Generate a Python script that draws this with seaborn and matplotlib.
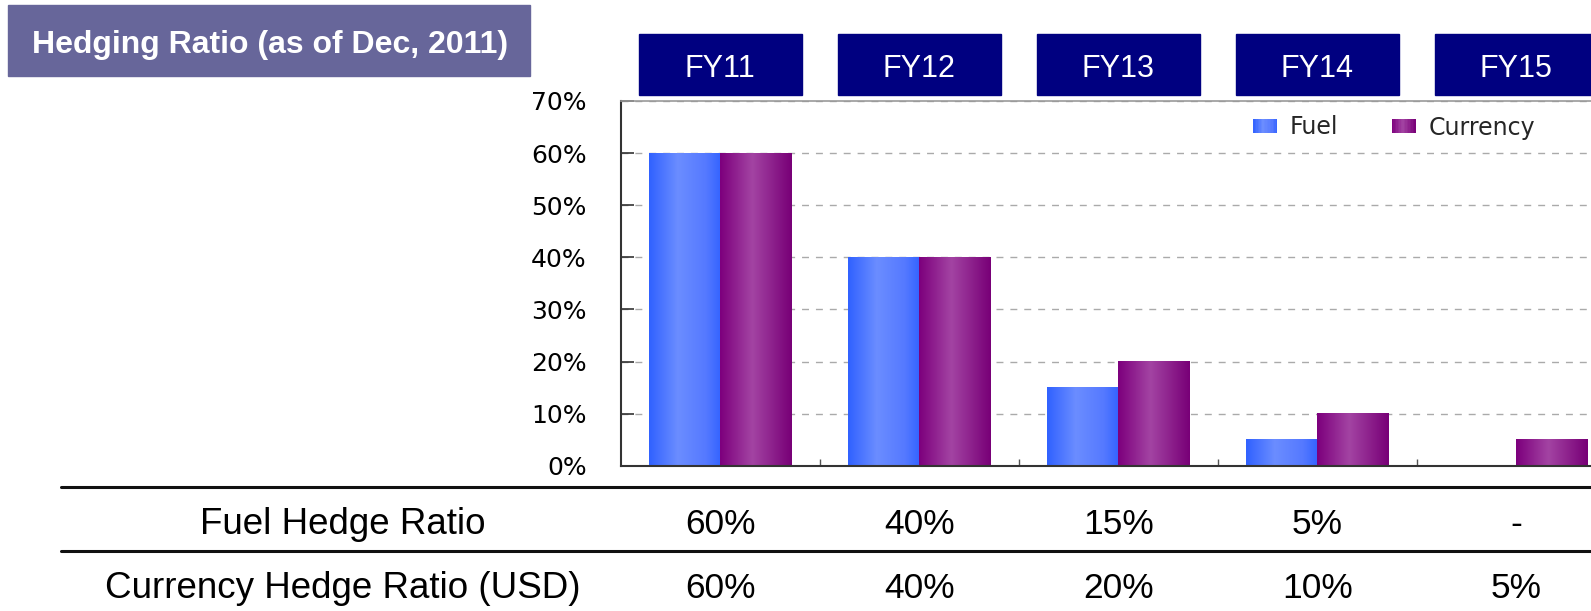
import numpy as np
import pandas as pd
import matplotlib
matplotlib.use('Agg')
import matplotlib.pyplot as plt
import matplotlib.transforms as mtransforms
from matplotlib.patches import Rectangle
from matplotlib.lines import Line2D
from matplotlib.colors import LinearSegmentedColormap
from matplotlib.legend_handler import HandlerBase
import seaborn as sns

# data
years = ['FY11', 'FY12', 'FY13', 'FY14', 'FY15']
fuel = [60, 40, 15, 5, None]
currency = [60, 40, 20, 10, 5]
series = ['Fuel', 'Currency']
row_labels = ['Fuel Hedge Ratio', 'Currency Hedge Ratio (USD)']
title = 'Hedging Ratio (as of Dec, 2011)'

df = pd.DataFrame({
    'year': years * 2,
    'series': [series[0]] * len(years) + [series[1]] * len(years),
    'value': fuel + currency,
})
df['value'] = df['value'].astype(float).fillna(0)

sns.set_theme(style='white')
plt.rcParams['font.family'] = ['DejaVu Sans']

W, H = 1591, 611
fig = plt.figure(figsize=(W / 100, H / 100), dpi=100)
ax = fig.add_axes([620.7 / W, 1 - 465.7 / H, 995 / W, 364.7 / H])

sns.barplot(data=df, x='year', y='value', hue='series',
            palette={'Fuel': '#3366ff', 'Currency': '#800080'},
            width=0.72, errorbar=None, saturation=1, legend=False, ax=ax)

# gradient fill like the original slide
blue = LinearSegmentedColormap.from_list(
    'fuel', [(0, '#3162ff'), (0.4, '#6b8dff'), (0.8, '#5579ff'), (1, '#3464ff')])
purple = LinearSegmentedColormap.from_list(
    'cur', [(0, '#7d007d'), (0.45, '#a344a3'), (1, '#780077')])
grad = np.linspace(0, 1, 64)[None, :]
for cont, cmap in zip(ax.containers, [blue, purple]):
    for bar in cont:
        h = bar.get_height()
        if not h > 0:
            continue
        x0, w = bar.get_x(), bar.get_width()
        ax.imshow(grad, cmap=cmap, extent=(x0, x0 + w, 0, h),
                  aspect='auto', zorder=2, interpolation='bilinear')
        bar.set_facecolor('none')
        bar.set_edgecolor('none')

ax.set_xlim(-0.5, len(years) - 0.5)
ax.set_ylim(0, 70)
ax.set_yticks(range(0, 71, 10))
ax.yaxis.set_major_formatter(lambda v, p: f'{v:.0f}%')
ax.set_xticks(np.arange(0.5, len(years) - 1, 1))
ax.set_xlabel('')
ax.set_ylabel('')
ax.tick_params(axis='x', direction='in', length=5, width=1, color='#555555',
               labelbottom=False, bottom=True)
ax.tick_params(axis='y', direction='in', length=9, width=1.2, color='#333333',
               pad=24.5, labelsize=18, labelcolor='black', left=True)
ax.yaxis.grid(True, color='#aaaaaa', linestyle=(0, (5, 5)), linewidth=1)
ax.set_axisbelow(True)
for side, col, lw in [('left', '#333333', 1.5), ('bottom', '#333333', 1.5),
                      ('top', '#999999', 1.2)]:
    ax.spines[side].set_visible(True)
    ax.spines[side].set_color(col)
    ax.spines[side].set_linewidth(lw)
ax.spines['right'].set_visible(False)


class GradHandler(HandlerBase):
    def __init__(self, cmap):
        super().__init__()
        self.cmap = cmap

    def create_artists(self, legend, orig_handle, xdescent, ydescent,
                       width, height, fontsize, trans):
        n = 16
        return [Rectangle((-xdescent + width * i / n, -ydescent), width / n * 1.05,
                          height, facecolor=self.cmap((i + 0.5) / n),
                          edgecolor='none', transform=trans) for i in range(n)]


h1, h2 = Rectangle((0, 0), 1, 1), Rectangle((0, 0), 1, 1)
ax.legend([h1, h2], series, handler_map={h1: GradHandler(blue), h2: GradHandler(purple)},
          loc='center left', bbox_to_anchor=(1253 / W, 1 - 127.5 / H),
          bbox_transform=fig.transFigure, ncol=2, frameon=False, fontsize=17,
          handlelength=1.02, handleheight=0.55, handletextpad=0.55,
          columnspacing=2.25, borderpad=0, borderaxespad=0)

# title box
fig.add_artist(Rectangle((8 / W, 1 - 76 / H), 522 / W, 71 / H,
                         transform=fig.transFigure, color='#67669a', zorder=0))
fig.text(32 / W, 1 - 52.7 / H, title, color='white', fontsize=23,
         fontweight='bold', family='Liberation Sans', ha='left', va='baseline')

# year header boxes
trans = mtransforms.blended_transform_factory(ax.transData, fig.transFigure)
for i, yr in enumerate(years):
    ax.add_patch(Rectangle((i - 0.41, 1 - 94.7 / H), 0.82, 60.7 / H,
                           transform=trans, color='#000080', clip_on=False))
    ax.text(i, 1 - 76.7 / H, yr, transform=trans, color='white', fontsize=22,
            family='Liberation Sans', ha='center', va='baseline')

# table below the chart
for y in [487.3, 551]:
    fig.add_artist(Line2D([61 / W, 1], [1 - y / H] * 2, color='#111111',
                          linewidth=2.2, transform=fig.transFigure))

baselines = [1 - 534 / H, 1 - 598 / H]
for lab, yb, vals in zip(row_labels, baselines, [fuel, currency]):
    fig.text(343 / W, yb, lab, fontsize=26.5, family='Liberation Sans',
             ha='center', va='baseline', color='black')
    for i, v in enumerate(vals):
        txt = '-' if v is None else f'{v}%'
        ax.text(i, yb, txt, transform=trans, fontsize=25.5, family='Liberation Sans',
                ha='center', va='baseline', color='black')

fig.savefig('out.png', dpi=100)
